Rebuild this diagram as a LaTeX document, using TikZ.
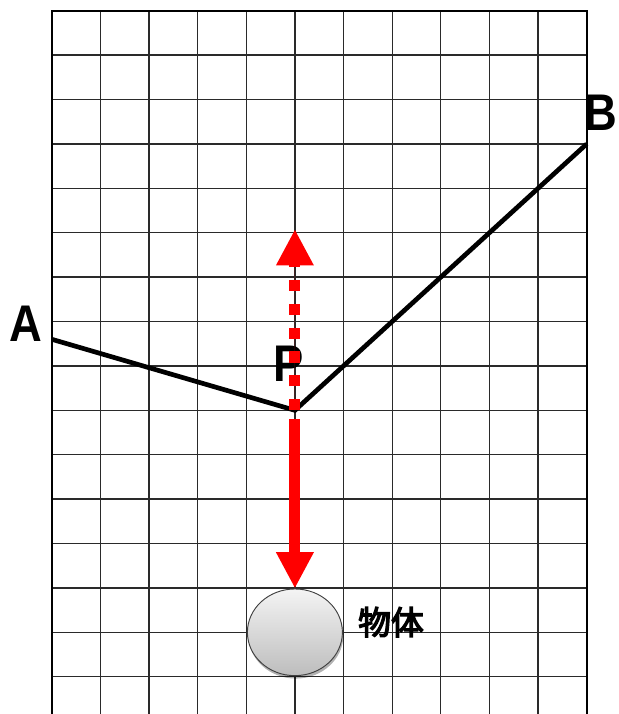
\documentclass[tikz,border=0pt]{standalone}
\usepackage{fontspec}
\usepackage{tikz}
\usetikzlibrary{
  arrows.meta,
  shapes.geometric,
  shadows,
  positioning
}
\newfontfamily\labfont{Liberation Sans}[FakeStretch=0.88]
\newfontfamily\cjkfont{Noto Sans CJK JP}[FakeBold=4]
\definecolor{fgRed}{HTML}{FF0000}
\definecolor{gridGray}{HTML}{2A2A2A}
\definecolor{objTop}{HTML}{F4F4F4}
\definecolor{objBot}{HTML}{BDBDBD}
\tikzset{
  gridline/.style={draw=gridGray, line width=1.1pt},
  border/.style={draw=black, line width=1.8pt},
  rope/.style={draw=black, line width=4pt, line join=miter},
  weightarrow/.style={-{Triangle[length=31pt, width=30pt]}, draw=fgRed, fill=fgRed, line width=9.4pt},
  pullarrow/.style={weightarrow, dash pattern=on 9.4pt off 11pt},
  ptlabel/.style={font=\labfont\bfseries\fontsize{44}{44}\selectfont, inner sep=0pt},
  objlabel/.style={font=\cjkfont\fontsize{28}{28}\selectfont, inner sep=0pt},
  object/.style={
    ellipse, draw=black!75, line width=0.8pt, top color=objTop, bottom color=objBot,
    minimum width=2.85cm, minimum height=2.6cm, inner sep=0pt,
    drop shadow={shadow xshift=0.8pt, shadow yshift=-2.5pt, opacity=0.3, fill=black}
  }
}
\begin{document}
\begin{tikzpicture}[x=1.4592cm, y=1.332cm]
  \useasboundingbox (-1.063,-15.84) rectangle (11.643,0.241);
  % grid paper
  \draw[gridline, step=1] (0,-15.84) grid (11,0);
  \draw[border] (0,-15.84) -- (0,0) -- (11,0) -- (11,-15.84);
  % strings
  \coordinate (A) at (0,-7.4);
  \coordinate (P) at (5,-9);
  \coordinate (B) at (11,-3);
  \coordinate (pull) at (5,-4.92);
  \coordinate (hang) at (5,-9.2);
  \draw[rope] (A) -- (P) -- (B);
  \node[ptlabel] (labA) at (-0.53,-7.06) {A};
  \node[ptlabel] (labB) at (11.29,-2.30) {B};
  \node[ptlabel] (labP) at (4.88,-7.96) {P};
  % object and forces
  \node[object] (obj) at (5,-14) {};
  \node[objlabel] (objtext) at (6.976,-13.77) {物体};
  \draw[pullarrow] (P) -- (pull);
  \draw[weightarrow] (hang) -- (obj.north);
\end{tikzpicture}
\end{document}
